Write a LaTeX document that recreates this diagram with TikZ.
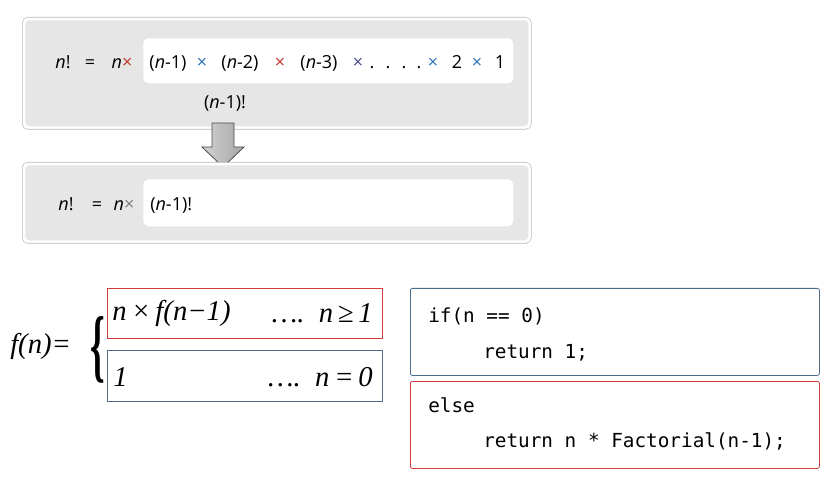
\documentclass[tikz,border=0pt]{standalone}
\usepackage{fontspec}
\setmainfont{Open Sans}
\newfontfamily\formulafont{Liberation Serif}
\setmonofont{DejaVu Sans Mono}
\usepackage{xcolor}
\definecolor{boxBlue}{HTML}{4E6D8C}
\definecolor{boxRed}{HTML}{D23C3C}
\definecolor{timesRed}{HTML}{C0392B}
\definecolor{timesBlue}{HTML}{2E75B6}
\definecolor{timesDark}{HTML}{4B4B8C}
\definecolor{panelGray}{HTML}{E6E6E6}
\usetikzlibrary{positioning}

\newcommand{\nv}{\textit{n}}
\newcommand{\tr}{{\color{timesRed}×}}
\newcommand{\tb}{{\color{timesBlue}×}}
\newcommand{\td}{{\color{timesDark}×}}
\newcommand{\tg}{{\color{gray}×}}

\begin{document}
\begin{tikzpicture}[
		x=0.75pt, y=-0.75pt,
		panel/.style={draw=gray!55, fill=white, rounded corners=4pt, anchor=north west, inner sep=0pt},
		panelfill/.style={fill=panelGray, rounded corners=3pt, anchor=north west, inner sep=0pt},
		slot/.style={fill=white, rounded corners=4pt, anchor=north west, inner sep=0pt},
		casebox/.style={draw, anchor=north west, inner sep=0pt, line width=0.6pt},
		codebox/.style={draw, rounded corners=1.5pt, anchor=north west, inner sep=0pt, line width=0.6pt},
		txt/.style={inner sep=0pt, text height=1.6ex, text depth=0.35ex, font=\fontsize{13.5}{16}\selectfont},
		formula/.style={inner sep=0pt, font=\formulafont\itshape\fontsize{21.5}{24}\selectfont},
		code/.style={anchor=west, inner sep=0pt, font=\ttfamily\fontsize{14.5}{17}\selectfont}
		]
		
		\useasboundingbox (0,0) rectangle (836,481);
		
		% top panel
		\node[panel, minimum width=509*0.75pt, minimum height=112*0.75pt] (top) at (22,17) {};
		\node[panelfill, minimum width=503*0.75pt, minimum height=106*0.75pt] (topfill) at (25,20) {};
		\node[slot, minimum width=370*0.75pt, minimum height=45*0.75pt] (topslot) at (143,38) {};
		\node[txt] (topn) at (63,64) {\nv!};
		\node[txt] (topeq) at (90,64) {=};
		\node[txt] (topm) at (122,64) {\nv\tr};
		\foreach \xpos/\piece [count=\i] in {168/{(\nv-1)}, 202/\tb, 240/{(\nv-2)}, 280/\tr, 319/{(\nv-3)},
				358/\td, 372/., 388/., 404/., 419/., 433/\tb, 457/2, 477/\tb, 500/1}
			\node[txt] (prod\i) at (\xpos,64) {\piece};
		\node[txt] (sub) at (225,104) {(\nv-1)!};
		
		% arrow
		\shade[left color=gray!35, right color=gray!70, draw=gray!60!black, line width=0.6pt]
			(212,123) -- (234,123) -- (234,147) -- (244,147) -- (223,167) -- (202,147) -- (212,147) -- cycle;
		
		% second panel
		\node[panel, minimum width=509*0.75pt, minimum height=81*0.75pt] (bot) at (22,162) {};
		\node[panelfill, minimum width=503*0.75pt, minimum height=75*0.75pt] (botfill) at (25,165) {};
		\node[slot, minimum width=370*0.75pt, minimum height=47*0.75pt] (botslot) at (143,179) {};
		\node[txt] (botn) at (66,206) {\nv!};
		\node[txt] (boteq) at (97,206) {=};
		\node[txt] (botm) at (124,206) {\nv\tg};
		\node[txt, anchor=west] (botrhs) at (150,206) {(\nv-1)!};
		
		% recursive definition
		\node[formula, anchor=west] (fn) at (10,346) {f(n)=};
		\node[inner sep=0pt] (brace) at (98,350) {\resizebox*{11pt}{50pt}{\formulafont\bfseries\{}};
		\node[casebox, draw=boxRed, minimum width=275*0.75pt, minimum height=50*0.75pt] (recur) at (107,288) {};
		\node[casebox, draw=boxBlue, minimum width=275*0.75pt, minimum height=51*0.75pt] (base) at (107,350) {};
		\node[formula, anchor=west] (recurL) at (112,313) {n\,×\,f(n−1)};
		\node[formula, anchor=east] (recurR) at (373,313) {….\ \ n\,≥\,1};
		\node[formula, anchor=west] (baseL) at (113,377) {1};
		\node[formula, anchor=east] (baseR) at (373,377) {….\ \ n\,=\,0};
		
		% code
		\node[codebox, draw=boxBlue, minimum width=409*0.75pt, minimum height=87*0.75pt] (ifbox) at (410,288) {};
		\node[codebox, draw=boxRed, minimum width=409*0.75pt, minimum height=87*0.75pt] (elsebox) at (410,381) {};
		\node[code] (if) at (428,316) {if(n == 0)};
		\node[code] (ret1) at (483,353) {return 1;};
		\node[code] (else) at (428,405) {else};
		\node[code] (retn) at (483,441) {return n * Factorial(n-1);};
		
	\end{tikzpicture}
\end{document}
